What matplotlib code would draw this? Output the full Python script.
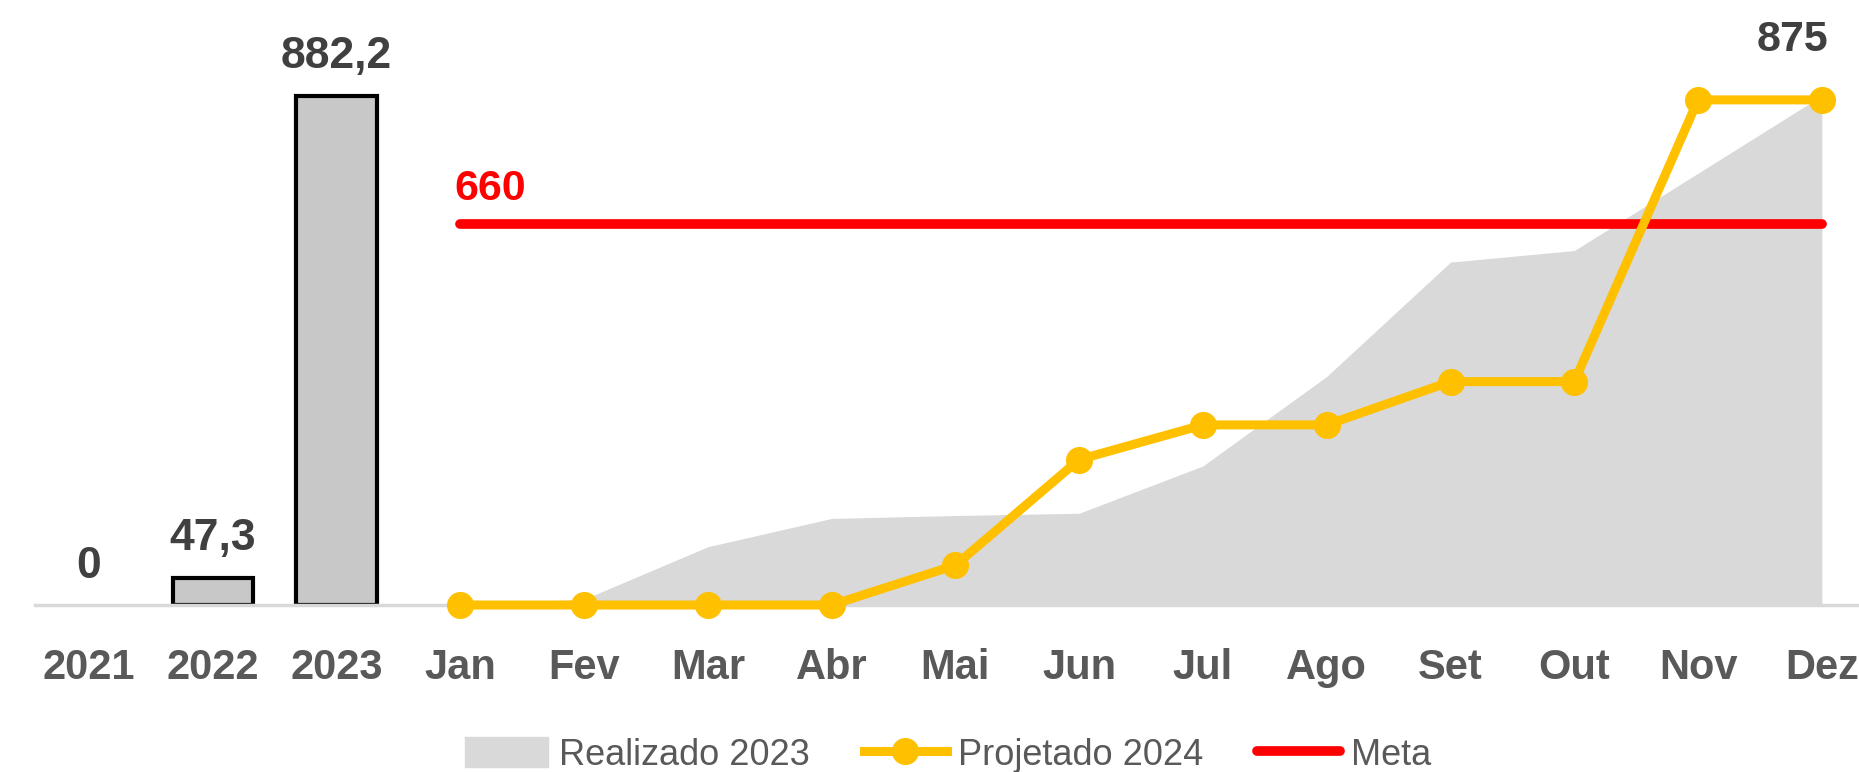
import numpy as np
import matplotlib
matplotlib.use("Agg")
from matplotlib import pyplot as plt
from matplotlib.patches import Patch
from matplotlib.lines import Line2D

plt.rcParams['font.family'] = ['Liberation Sans', 'DejaVu Sans']

# dados
anos = ["2021", "2022", "2023"]
anos_val = [0, 47.3, 882.2]
meses = ["Jan", "Fev", "Mar", "Abr", "Mai", "Jun", "Jul", "Ago", "Set", "Out", "Nov", "Dez"]
realizado_2023 = [0, 10, 101, 150, 155, 159, 241, 396, 594, 614, 748, 882.2]
projetado_2024 = [0, 0, 0, 0, 69, 252, 312, 312, 387, 387, 875, 875]
meta = 660

cinza_txt = "#595959"
amarelo = "#FFC000"

fig = plt.figure(figsize=(18.59, 7.72), dpi=100)
ax = fig.add_axes([0.0186, 0.2163, 0.9814, 0.7837])

x_anos = np.arange(len(anos))
x_meses = np.arange(len(anos), len(anos) + len(meses))

ax.fill_between(x_meses, realizado_2023, color="#D9D9D9", lw=0, zorder=1)
# barra com valor zero nao aparece (sem contorno)
bordas = ["none" if v == 0 else "black" for v in anos_val]
ax.bar(x_anos, anos_val, width=0.65, color="#C8C8C8", edgecolor=bordas, linewidth=3, zorder=2)
ax.plot([x_meses[0], x_meses[-1]], [meta, meta], color="red", lw=7, solid_capstyle="round", zorder=3)
ax.plot(x_meses, projetado_2024, color=amarelo, lw=6.5, marker="o", markersize=18.5, zorder=4,
        clip_on=False)

# rotulos
for x, v in zip(x_anos, anos_val):
    txt = ("%.1f" % v).replace(".", ",") if v % 1 else "%d" % v
    ax.annotate(txt, (x, v), xytext=(0, 28), textcoords="offset points", ha="center", va="center",
                fontsize=32, fontweight="bold", color="#404040")
ax.annotate("%d" % meta, (x_meses[0], meta), xytext=(-4, 25), textcoords="offset points", ha="left",
            va="center", fontsize=31, fontweight="bold", color="red")
ax.annotate("%d" % projetado_2024[-1], (x_meses[-1], projetado_2024[-1]), xytext=(5, 43),
            textcoords="offset points", ha="right", va="center", fontsize=31, fontweight="bold",
            color="#404040")

ax.set_xlim(-0.44, 14.3)
ax.set_ylim(0, 1048)
ax.set_xticks(np.arange(len(anos) + len(meses)), anos + meses)
ax.tick_params(axis="x", length=0, pad=31, labelsize=30, labelcolor=cinza_txt)
for t in ax.get_xticklabels():
    t.set_fontweight("bold")
ax.set_yticks([])
for s in ["top", "left", "right"]:
    ax.spines[s].set_visible(False)
ax.spines["bottom"].set_color("#D9D9D9")
ax.spines["bottom"].set_linewidth(2.5)

handles = [Patch(color="#D9D9D9", label="Realizado 2023"),
           Line2D([], [], color=amarelo, lw=6.5, marker="o", markersize=18.5, label="Projetado 2024"),
           Line2D([], [], color="red", lw=7, solid_capstyle="round", label="Meta")]
fig.legend(handles=handles, loc="center", bbox_to_anchor=(0.51, 0.022), ncol=3, frameon=False,
           fontsize=26, labelcolor=cinza_txt, handlelength=2.3, handletextpad=0.3, columnspacing=1.5,
           handleheight=0.9)

fig.savefig("out.png", dpi=100)
